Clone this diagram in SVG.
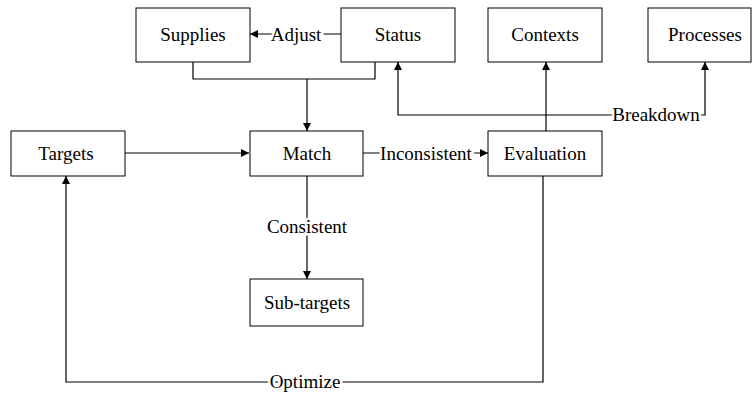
<svg xmlns="http://www.w3.org/2000/svg" width="753" height="394" viewBox="0 0 753 394">
<style>
.box{fill:#fff;stroke:#000;stroke-width:1}
text{font-family:'Liberation Serif','Times New Roman',serif;font-size:19px;fill:#000;text-anchor:middle}
.edge{fill:none;stroke:#000;stroke-width:1.2}
.elbl{stroke:#fff;stroke-width:5;paint-order:stroke}
</style>
<defs>
<marker id="ah" viewBox="0 0 10 10" refX="10" refY="5" markerWidth="8" markerHeight="8" markerUnits="userSpaceOnUse" orient="auto">
<path d="M0,0 L10,5 L0,10 z" fill="#000"/>
</marker>
</defs>
<g id="connectors">
<path class="edge" d="M341,34 H250" marker-end="url(#ah)"/>
<path class="edge" d="M193,62 V79 H375 V62"/>
<path class="edge" d="M307,79 V131" marker-end="url(#ah)"/>
<path class="edge" d="M125,153 H249" marker-end="url(#ah)"/>
<path class="edge" d="M363,153 H488" marker-end="url(#ah)"/>
<path class="edge" d="M307,176 V279" marker-end="url(#ah)"/>
<path class="edge" d="M546,131 V62" marker-end="url(#ah)"/>
<path class="edge" d="M546,115 H398 V62" marker-end="url(#ah)"/>
<path class="edge" d="M546,115 H705 V62" marker-end="url(#ah)"/>
<path class="edge" d="M543,176 V382 H66 V176" marker-end="url(#ah)"/>
<text class="elbl" x="296" y="41">Adjust</text>
<text class="elbl" x="426" y="160">Inconsistent</text>
<text class="elbl" x="307" y="233">Consistent</text>
<text class="elbl" x="656" y="121">Breakdown</text>
<text class="elbl" x="305" y="388">Optimize</text>
</g>
<g id="supplies"><rect class="box" x="136" y="8" width="114" height="54"/><text x="193" y="41">Supplies</text></g>
<g id="status"><rect class="box" x="341" y="8" width="114" height="54"/><text x="398" y="41">Status</text></g>
<g id="contexts"><rect class="box" x="488" y="8" width="114" height="54"/><text x="545" y="41">Contexts</text></g>
<g id="processes"><rect class="box" x="648" y="8" width="103" height="54"/><text x="705" y="41">Processes</text></g>
<g id="targets"><rect class="box" x="11" y="131" width="114" height="45"/><text x="66" y="160">Targets</text></g>
<g id="match"><rect class="box" x="250" y="131" width="113" height="45"/><text x="307" y="160">Match</text></g>
<g id="evaluation"><rect class="box" x="488" y="131" width="114" height="45"/><text x="545" y="160">Evaluation</text></g>
<g id="subtargets"><rect class="box" x="250" y="279" width="113" height="47"/><text x="307" y="309">Sub-targets</text></g>
</svg>
